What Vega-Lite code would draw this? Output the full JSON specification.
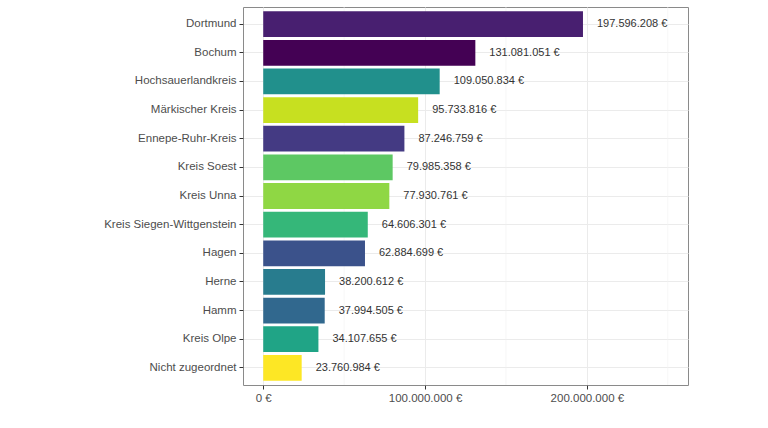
{
  "$schema": "https://vega.github.io/schema/vega-lite/v6.json",
  "width": 445,
  "height": 378,
  "autosize": {"type": "none"},
  "padding": {"left": 243, "top": 7, "right": 80, "bottom": 43},
  "background": "white",
  "config": {
    "locale": {"number": {"decimal": ",", "thousands": ".", "grouping": [3], "currency": ["", " €"]}},
    "font": "Liberation Sans",
    "view": {"stroke": "#8a8a8a", "strokeWidth": 1}
  },
  "data": {
    "values": [
      {"region": "Dortmund", "betrag": 197596208},
      {"region": "Bochum", "betrag": 131081051},
      {"region": "Hochsauerlandkreis", "betrag": 109050834},
      {"region": "Märkischer Kreis", "betrag": 95733816},
      {"region": "Ennepe-Ruhr-Kreis", "betrag": 87246759},
      {"region": "Kreis Soest", "betrag": 79985358},
      {"region": "Kreis Unna", "betrag": 77930761},
      {"region": "Kreis Siegen-Wittgenstein", "betrag": 64606301},
      {"region": "Hagen", "betrag": 62884699},
      {"region": "Herne", "betrag": 38200612},
      {"region": "Hamm", "betrag": 37994505},
      {"region": "Kreis Olpe", "betrag": 34107655},
      {"region": "Nicht zugeordnet", "betrag": 23760984}
    ]
  },
  "encoding": {
    "y": {
      "field": "region", "type": "nominal",
      "sort": {"field": "betrag", "order": "descending"},
      "scale": {"paddingInner": 0.1, "paddingOuter": 0.15},
      "axis": {
        "title": null, "domain": false, "grid": true, "gridColor": "#EBEBEB", "gridWidth": 1,
        "bandPosition": 0.5,
        "labelFontSize": 11.5, "labelColor": "#4D4D4D", "labelPadding": 3,
        "tickColor": "#333333", "tickSize": 4, "tickWidth": 1
      }
    }
  },
  "layer": [
    {
      "data": {"values": [{"v": 50000000}, {"v": 150000000}, {"v": 250000000}]},
      "mark": {"type": "rule", "color": "#F2F2F2", "strokeWidth": 0.6},
      "encoding": {
        "x": {"field": "v", "type": "quantitative"},
        "y": null
      }
    },
    {
      "mark": {"type": "bar"},
      "encoding": {
        "x": {
          "field": "betrag", "type": "quantitative",
          "scale": {"domain": [-12500000, 262500000], "nice": false, "zero": false},
          "axis": {
            "title": null, "values": [0, 100000000, 200000000],
            "labelExpr": "replace(format(datum.value, ',d'), regexp(',', 'g'), '.') + ' €'",
            "domain": false, "grid": true, "gridColor": "#EBEBEB", "gridWidth": 1,
            "labelFontSize": 11.5, "labelColor": "#4D4D4D", "labelPadding": 3,
            "tickColor": "#333333", "tickSize": 4, "tickWidth": 1
          }
        },
        "color": {
          "field": "region", "type": "nominal", "legend": null,
          "scale": {
            "domain": ["Bochum", "Dortmund", "Ennepe-Ruhr-Kreis", "Hagen", "Hamm", "Herne", "Hochsauerlandkreis", "Kreis Olpe", "Kreis Siegen-Wittgenstein", "Kreis Soest", "Kreis Unna", "Märkischer Kreis", "Nicht zugeordnet"],
            "range": ["#440154", "#481F70", "#443A83", "#3B528B", "#31688E", "#287C8E", "#21908C", "#20A486", "#35B779", "#5DC863", "#8FD744", "#C7E020", "#FDE725"]
          }
        }
      }
    },
    {
      "mark": {"type": "text", "align": "left", "baseline": "middle", "dx": 14, "fontSize": 11, "color": "#333333"},
      "encoding": {
        "x": {"field": "betrag", "type": "quantitative"},
        "text": {"field": "betrag", "type": "quantitative", "format": "$,.0f"}
      }
    }
  ]
}
